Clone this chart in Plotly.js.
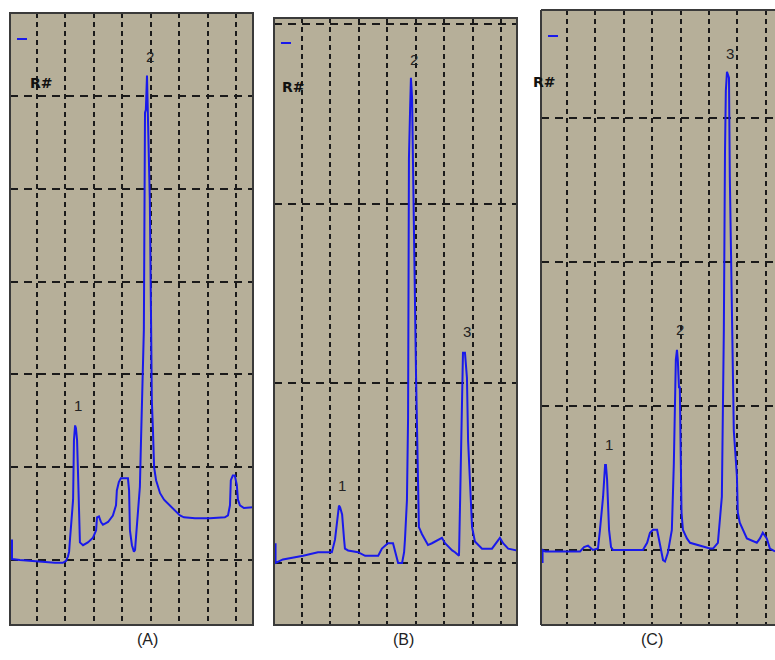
<!DOCTYPE html>
<html>
<head>
<meta charset="utf-8">
<script src="https://cdn.plot.ly/plotly-3.0.1.min.js"></script>
<style>html,body{margin:0;padding:0;background:#fff;overflow:hidden}</style>
</head>
<body>
<div id="chart" style="width:775px;height:660px"></div>
<script>
// Panel A (time in grid divisions, response in grid divisions)
const timeA = [0.12,0.12,0.40,0.75,1.28,1.63,1.91,2.02,2.09,2.13,
  2.16,2.20,2.27,2.30,2.34,2.37,2.41,2.44,2.48,2.51,
  2.62,2.79,2.97,3.08,3.11,3.18,3.25,3.32,3.50,3.67,
  3.78,3.81,3.88,3.95,4.09,4.20,4.24,4.27,4.34,4.41,
  4.45,4.48,4.52,4.59,4.62,4.66,4.73,4.76,4.80,4.83,
  4.87,4.90,4.94,4.97,5.01,5.04,5.08,5.12,5.19,5.22,
  5.33,5.47,5.61,5.75,5.89,6.03,6.17,6.56,7.08,7.61,
  7.72,7.79,7.82,7.89,7.96,8.03,8.07,8.14,8.28,8.60];
const signalA = [0.22,0.01,0.00,-0.01,-0.02,-0.03,-0.03,-0.01,0.04,0.09,
  0.22,0.36,0.65,1.29,1.45,1.42,1.29,0.97,0.43,0.19,
  0.16,0.19,0.24,0.32,0.46,0.47,0.41,0.38,0.41,0.48,
  0.59,0.75,0.84,0.88,0.88,0.88,0.75,0.32,0.16,0.09,
  0.11,0.22,0.43,0.65,0.79,1.29,2.19,2.48,4.82,4.85,
  5.22,4.82,4.63,3.88,2.67,1.72,1.40,1.00,0.86,0.83,
  0.72,0.65,0.61,0.57,0.53,0.48,0.46,0.45,0.45,0.46,
  0.48,0.59,0.86,0.91,0.91,0.81,0.65,0.59,0.56,0.57];

// Panel B
const timeB = [0.07,0.07,0.33,0.68,1.04,1.56,2.05,2.16,2.23,2.27,
  2.30,2.34,2.41,2.48,2.51,2.62,2.97,3.22,3.68,3.81,
  4.02,4.20,4.27,4.38,4.52,4.59,4.62,4.69,4.73,4.76,
  4.80,4.83,4.87,4.90,4.94,5.01,5.05,5.11,5.22,5.33,
  5.43,5.57,5.78,5.92,6.03,6.28,6.38,6.52,6.56,6.63,
  6.66,6.73,6.80,6.84,6.91,6.98,7.08,7.19,7.33,7.68,
  7.86,7.96,8.07,8.25,8.56];
const signalB = [0.11,0.00,0.02,0.03,0.04,0.06,0.06,0.13,0.24,0.29,
  0.32,0.31,0.27,0.13,0.08,0.07,0.06,0.04,0.04,0.08,
  0.11,0.11,0.06,0.00,0.00,0.06,0.13,0.35,0.81,2.25,
  2.52,2.70,2.59,2.13,1.81,1.04,0.59,0.20,0.16,0.13,
  0.10,0.11,0.13,0.14,0.11,0.07,0.06,0.04,0.35,0.83,
  1.17,1.17,1.03,0.68,0.41,0.20,0.12,0.10,0.08,0.08,
  0.12,0.14,0.11,0.08,0.07];

// Panel C
const timeC = [0.14,0.14,0.23,1.46,1.60,1.74,1.91,2.09,2.16,2.23,
  2.27,2.34,2.37,2.41,2.44,2.48,2.55,2.62,3.67,3.82,
  3.92,4.03,4.17,4.27,4.38,4.45,4.55,4.69,4.76,4.83,
  4.87,4.90,4.94,4.97,5.03,5.08,5.22,5.33,5.68,6.03,
  6.14,6.31,6.45,6.49,6.52,6.56,6.59,6.63,6.70,6.73,
  6.80,6.87,6.98,7.01,7.08,7.19,7.33,7.68,7.79,7.89,
  7.96,8.03,8.14,8.32];
const signalC = [-0.09,0.00,-0.01,-0.01,0.02,0.03,0.00,0.01,0.14,0.28,
  0.37,0.59,0.59,0.49,0.37,0.14,0.02,0.00,0.00,0.05,
  0.12,0.14,0.14,0.05,-0.07,-0.08,-0.02,0.14,0.60,1.32,
  1.39,1.32,1.13,1.13,0.26,0.14,0.08,0.05,0.03,0.01,
  0.01,0.05,0.37,1.04,1.53,2.76,3.19,3.32,3.28,2.59,
  1.56,0.83,0.51,0.26,0.19,0.14,0.08,0.05,0.08,0.12,
  0.10,0.08,0.01,-0.01];

// Peak labels
const peakLabelsA = ["1","2"], peakXA = [2.44,4.97], peakYA = [1.67,5.42];
const peakLabelsB = ["1","2","3"], peakXB = [2.41,4.94,6.80], peakYB = [0.43,2.80,1.29];
const peakLabelsC = ["1","2","3"], peakXC = [2.48,4.97,6.73], peakYC = [0.73,1.53,3.45];
const panelLabels = ["(A)","(B)","(C)"];

const W = 775, H = 660;
const bg = 'rgb(182,175,153)';
const lineCol = 'rgb(25,25,235)';
const frameCol = '#3a3a3a';
const fx = p => p / W, fy = p => 1 - p / H;

function xax(domain, range) {
  return {domain: domain, range: range, dtick: 1, tick0: 0, showgrid: true,
    gridcolor: '#1a1a1a', gridwidth: 2, griddash: '5px,4px',
    zeroline: false, showticklabels: false, ticks: '', showline: false, fixedrange: true};
}
function yax(domain, range) {
  return {domain: domain, range: range, dtick: 1, tick0: 0, showgrid: true,
    gridcolor: '#1a1a1a', gridwidth: 2, griddash: '8px,6px',
    zeroline: false, showticklabels: false, ticks: '', showline: false, fixedrange: true};
}

const traces = [
  {x: timeA, y: signalA, xaxis: 'x', yaxis: 'y', mode: 'lines', line: {color: lineCol, width: 2}, hoverinfo: 'skip'},
  {x: timeB, y: signalB, xaxis: 'x2', yaxis: 'y2', mode: 'lines', line: {color: lineCol, width: 2}, hoverinfo: 'skip'},
  {x: timeC, y: signalC, xaxis: 'x3', yaxis: 'y3', mode: 'lines', line: {color: lineCol, width: 2}, hoverinfo: 'skip'}
];

const annotations = [];
function addPeaks(labels, xs, ys, xr, yr) {
  labels.forEach((t, i) => annotations.push({text: t, x: xs[i], y: ys[i], xref: xr, yref: yr,
    showarrow: false, font: {family: 'Liberation Sans, Arial, sans-serif', size: 15, color: '#222'}}));
}
addPeaks(peakLabelsA, peakXA, peakYA, 'x', 'y');
addPeaks(peakLabelsB, peakXB, peakYB, 'x2', 'y2');
addPeaks(peakLabelsC, peakXC, peakYC, 'x3', 'y3');

const panelCenters = [135, 403, 665];
panelLabels.forEach((t, i) => annotations.push({text: t, x: fx(panelCenters[i]), y: fy(650),
  xref: 'paper', yref: 'paper', showarrow: false,
  font: {family: 'Liberation Sans, Arial, sans-serif', size: 16, color: '#222'}}));

// "R#" marker text and blue legend dash inside each panel
const tagPos = [[28, 73], [293, 77], [558, 72]];
tagPos.forEach(p => annotations.push({text: '<b>R#</b>', x: fx(p[0]), y: fy(p[1]), xref: 'paper', yref: 'paper',
  showarrow: false, font: {family: 'DejaVu Sans, sans-serif', size: 14, color: '#111'}}));
const dashPos = [[17, 27, 39], [281, 291, 43], [548, 558, 36]];
const shapes = dashPos.map(d => ({type: 'line', xref: 'paper', yref: 'paper',
  x0: fx(d[0]), x1: fx(d[1]), y0: fy(d[2]), y1: fy(d[2]), line: {color: lineCol, width: 2}}));

// Panel frames
[['x', 'y'], ['x2', 'y2']].forEach(a => shapes.push({type: 'rect', xref: a[0] + ' domain', yref: a[1] + ' domain',
  x0: 0, x1: 1, y0: 0, y1: 1, line: {color: frameCol, width: 2}, fillcolor: 'rgba(0,0,0,0)'}));
[[0, 0, 0, 1], [0, 1, 1, 1], [0, 1, 0, 0]].forEach(s => shapes.push({type: 'line', xref: 'x3 domain', yref: 'y3 domain',
  x0: s[0], x1: s[1], y0: s[2], y1: s[3], line: {color: frameCol, width: 2}}));

const layout = {
  width: W, height: H, margin: {l: 0, r: 0, t: 0, b: 0},
  paper_bgcolor: '#fff', plot_bgcolor: bg, showlegend: false,
  xaxis: xax([fx(10), fx(253)], [0.05, 8.60]),
  yaxis: yax([fy(625), fy(13)], [-0.70, 5.894]),
  xaxis2: xax([fx(274), fx(517)], [0.015, 8.56]),
  yaxis2: yax([fy(625), fy(18)], [-0.345, 3.033]),
  xaxis3: xax([fx(541), 1], [0.085, 8.32]),
  yaxis3: yax([fy(625), fy(10)], [-0.521, 3.75]),
  annotations: annotations, shapes: shapes
};

Plotly.newPlot('chart', traces, layout, {displayModeBar: false, staticPlot: true});
</script>
</body>
</html>
